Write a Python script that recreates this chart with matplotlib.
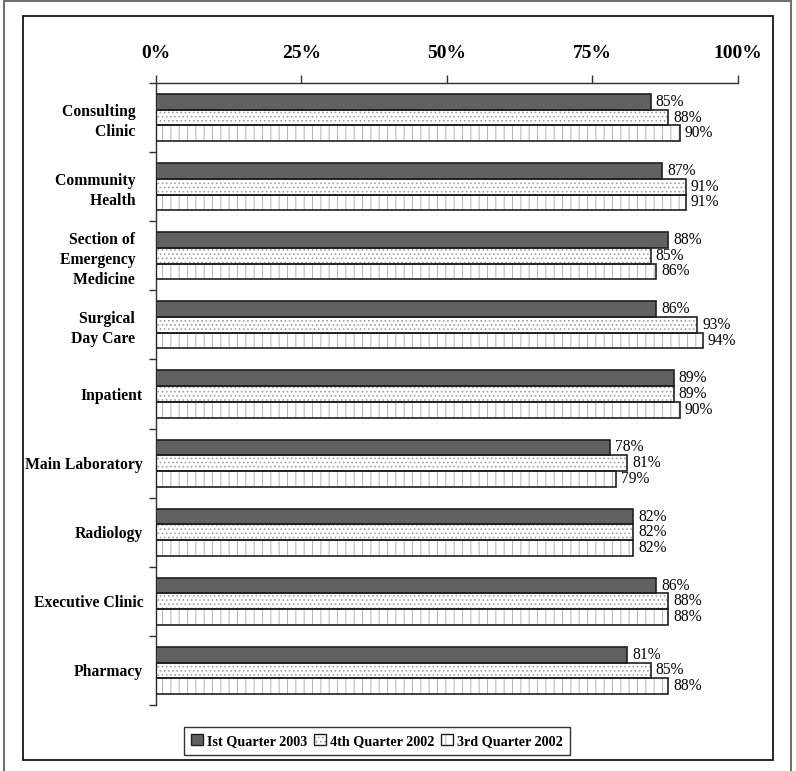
import matplotlib
matplotlib.use("Agg")
import matplotlib.pyplot as plt
from matplotlib.patches import Patch, Rectangle
from matplotlib.legend_handler import HandlerTuple
import numpy as np

plt.rcParams['font.family'] = ['Liberation Serif', 'DejaVu Serif']
plt.rcParams['hatch.linewidth'] = 0.7

categories = ["Consulting  \nClinic  ", "Community  \nHealth  ", "Section of  \nEmergency  \nMedicine  ",
              "Surgical  \nDay Care  ", "Inpatient", "Main Laboratory", "Radiology",
              "Executive Clinic", "Pharmacy"]
series_names = ["Ist Quarter 2003", "4th Quarter 2002", "3rd Quarter 2002"]
q1_2003 = [85, 87, 88, 86, 89, 78, 82, 86, 81]
q4_2002 = [88, 91, 85, 93, 89, 81, 82, 88, 85]
q3_2002 = [90, 91, 86, 94, 90, 79, 82, 88, 88]
x_ticks = [0, 25, 50, 75, 100]

W, H = 796, 771
fig = plt.figure(figsize=(W / 100, H / 100), dpi=100)

# frames
fig.patches.append(Rectangle((4 / W, -0.01), (791 - 4) / W, 1 - 1 / H + 0.01,
                             transform=fig.transFigure, fill=False,
                             edgecolor='#707070', linewidth=1.5))
fig.patches.append(Rectangle((23 / W, 1 - 760 / H), (773 - 23) / W, (760 - 16) / H,
                             transform=fig.transFigure, fill=False,
                             edgecolor='black', linewidth=1.2))

ax = fig.add_axes([155.7 / W, 1 - 705 / H, (738 - 155.7) / W, (705 - 83) / H])

y = np.arange(len(categories))
h = 0.227
series = [q1_2003, q4_2002, q3_2002]
offsets = [-h, 0, h]
styles = [
    dict(color='#616161', hatch=None, hcol=None),
    dict(color='white', hatch='....', hcol='#a0a0a0'),
    dict(color='white', hatch='||', hcol='#b4b4b4'),
]
handles = []
for vals, off, st in zip(series, offsets, styles):
    pos = y + off
    if st['hatch']:
        ax.barh(pos, vals, height=h, color=st['color'], hatch=st['hatch'],
                edgecolor=st['hcol'], linewidth=0, zorder=2)
        ax.barh(pos, vals, height=h, fill=False, edgecolor='#202020', linewidth=1.2, zorder=3)
        hp = (Patch(facecolor='white', hatch=st['hatch'], edgecolor=st['hcol'], linewidth=0),
              Patch(fill=False, edgecolor='#202020', linewidth=1.0))
    else:
        ax.barh(pos, vals, height=h, color=st['color'], edgecolor='#202020',
                linewidth=1.2, zorder=3)
        hp = (Patch(facecolor=st['color'], edgecolor='#202020', linewidth=1.0),)
    handles.append(hp)
    for p, v in zip(pos, vals):
        ax.annotate(f"{v}%", (v, p), xytext=(3.5, 0), textcoords='offset points',
                    ha='left', va='center', fontsize=11.2, color='black')

ax.set_xlim(0, 100)
ax.set_ylim(len(categories) - 0.5, -0.5)
ax.xaxis.tick_top()
ax.set_xticks(x_ticks)
ax.set_xticklabels([f"{t}%" for t in x_ticks], fontsize=14, fontweight='bold')
ax.tick_params(axis='x', direction='out', length=6, width=1, pad=9, color='#303030')

ax.set_yticks(y)
ax.set_yticklabels(categories, fontsize=11.3, fontweight='bold', linespacing=1.35)
ax.tick_params(axis='y', which='major', length=0, pad=9)
ax.set_yticks(np.arange(-0.5, len(categories)), minor=True)
ax.tick_params(axis='y', which='minor', length=5, width=1, direction='out', color='#303030')

for s in ['right', 'bottom']:
    ax.spines[s].set_visible(False)
for s in ['top', 'left']:
    ax.spines[s].set_linewidth(1.0)
    ax.spines[s].set_color('#303030')

leg = fig.legend(handles, series_names, loc='center', bbox_to_anchor=(377 / W, 1 - 741 / H),
                 ncol=3, frameon=True, fancybox=False, edgecolor='black',
                 prop={'weight': 'bold', 'size': 10.2},
                 handler_map={tuple: HandlerTuple(ndivide=1)},
                 handlelength=0.8, handleheight=0.8, handletextpad=0.3,
                 columnspacing=0.5, borderpad=0.55, borderaxespad=0)
leg.get_frame().set_linewidth(1.0)

fig.savefig("out.png", dpi=100)
